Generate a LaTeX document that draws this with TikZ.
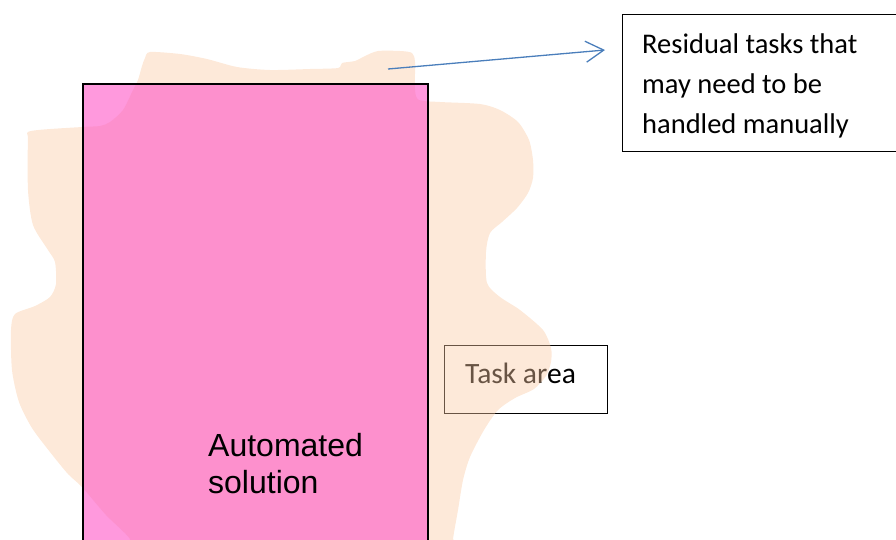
\documentclass[tikz,border=0pt]{standalone}
\usepackage{fontspec}
\setmainfont{Carlito}
\newfontfamily\arialfont{Liberation Sans}
\usetikzlibrary{arrows.meta}
\definecolor{blobc}{RGB}{250,202,164}
\definecolor{pinkc}{RGB}{255,85,198}
\definecolor{arrowc}{RGB}{74,126,187}
\begin{document}
\begin{tikzpicture}[x=1pt,y=-1pt,
  labelbox/.style={draw=black, line width=1.3pt, anchor=north west},
  labeltext/.style={anchor=base west, align=left, inner sep=0pt,
    font=\fontsize{28.5pt}{40pt}\selectfont},
  autobox/.style={draw=black, line width=1.6pt, fill=pinkc, fill opacity=0.6,
    anchor=north west, minimum width=345pt, minimum height=480pt},
  blobfill/.style={fill=blobc, opacity=0.42},
  conn/.style={draw=arrowc, line width=1.3pt,
    -{Straight Barb[length=18pt, width=21pt, line width=1.3pt]}}]
\clip (0,0) rectangle (896,539);
% task area box (under the blob)
\node[labelbox, minimum width=163pt, minimum height=68pt] (task) at (444,345) {};
\node[labeltext, font=\fontsize{29.5pt}{40pt}\selectfont] (tasktext) at (465,383) {Task area};
% task area blob
\path[blobfill] plot[smooth cycle, tension=0.45] coordinates {
(150,52) (180,54) (207,59) (237,67) (270,70) (310,69) (338,68) (342,63) (355,61) (365,56) (378,51)
(400,51) (412,53) (415,62) (415,90) (419,100) (440,102) (480,104) (500,110) (518,122)
(529,140) (533,160) (533,178) (528,193) (517,208) (502,222) (490,233) (486,252) (487,283)
(500,297) (520,310) (543,330) (551,348) (551,362) (546,376) (534,389) (515,398) (498,410)
(484,430) (470,457) (463,480) (458,510) (453,539) (452,560) (135,560) (130,539) (106,515)
(82,487) (68,474) (50,452) (32,428) (19,402) (12,370) (11,330) (15,314) (35,306) (50,297)
(56,284) (55,262) (48,250) (33,225) (28,190) (28,140) (31,131) (82,127) (100,126) (110,122)
(123,110) (133,90) (138,80) (142,66) (145,58)};
% automated solution
\node[autobox] (autorect) at (82,83) {};
\node[anchor=base west, align=left, inner sep=0pt,
  font=\arialfont\fontsize{32pt}{37pt}\selectfont] (autotext) at (208,493) {Automated\\solution};
% residual tasks
\node[labelbox, minimum width=285pt, minimum height=137pt] (res) at (622,14) {};
\node[labeltext] (restext) at (642,133) {Residual tasks that\\may need to be\\handled manually};
\coordinate (src) at (388,69);
\coordinate (tip) at (605,50);
\draw[conn] (src) -- (tip);
\end{tikzpicture}
\end{document}
